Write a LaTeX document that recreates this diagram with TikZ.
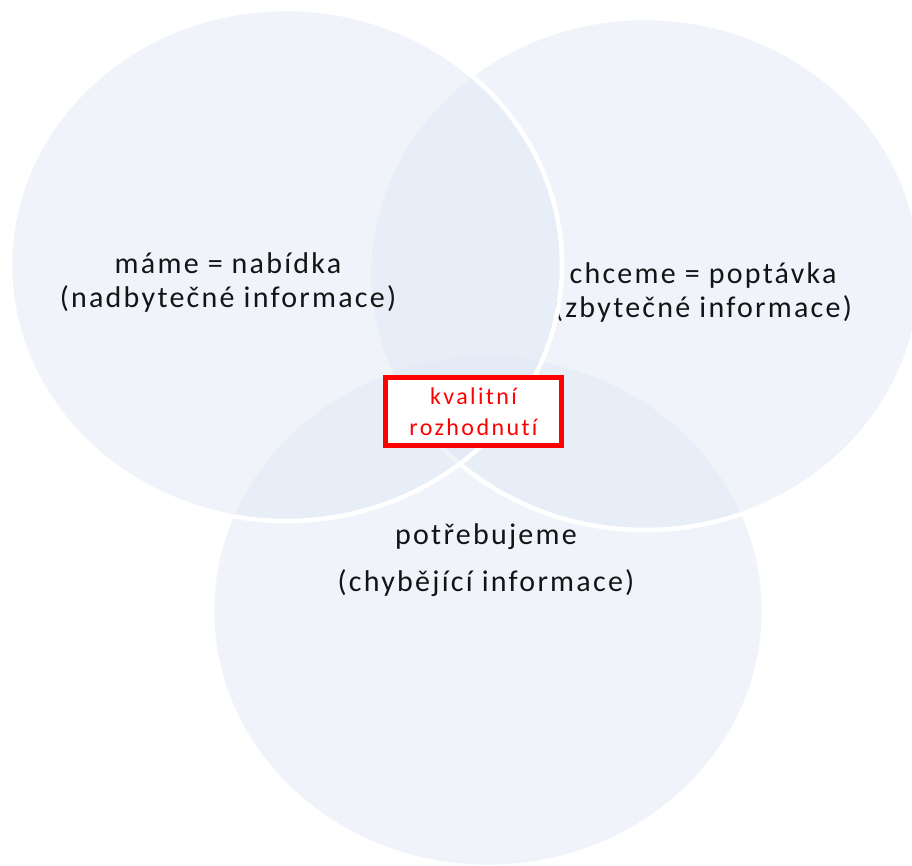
\documentclass[tikz,border=0pt]{standalone}
\usepackage{fontspec}
\setmainfont{Carlito}[RawFeature=-liga]
\definecolor{setblue}{RGB}{220,229,243}
\definecolor{inkgray}{RGB}{20,20,20}
\definecolor{alertred}{RGB}{255,0,0}
\begin{document}
\begin{tikzpicture}[x=0.5pt,y=-0.5pt,
  setfill/.style={fill=setblue, fill opacity=0.42},
  setedge/.style={draw=white, line width=2.25pt},
  setlabel/.style={font=\fontsize{15}{17}\selectfont\addfontfeatures{LetterSpace=7.5},
    text=inkgray, align=center, inner sep=0pt, anchor=base},
  decision/.style={draw=alertred, line width=2.5pt, fill=white, text=alertred,
    minimum width=88pt, minimum height=34pt, inner sep=0pt, align=center,
    font=\fontsize{12}{15.5}\selectfont\addfontfeatures{LetterSpace=10}}]
  \useasboundingbox (0,0) rectangle (912,866);
  \clip (0,0) rectangle (912,866);

  % three overlapping sets, back to front
  \path[setfill] (488,611) ellipse [x radius=138pt, y radius=128pt];
  \draw[setedge] (488,611) ellipse [x radius=138pt, y radius=128pt];

  \path[setfill] (645,274) ellipse [x radius=138pt, y radius=128pt];
  \draw[setedge] (645,274) ellipse [x radius=138pt, y radius=128pt];
  \node[setlabel] (want) at (703,318) {chceme = poptávka\\(zbytečné informace)};

  \path[setfill] (286,265) ellipse [x radius=138pt, y radius=128pt];
  \draw[setedge] (286,265) ellipse [x radius=138pt, y radius=128pt];
  \node[setlabel] (have) at (228,308) {máme = nabídka\\(nadbytečné informace)};

  \node[setlabel] (need) at (486,592) {potřebujeme\\[6.5pt](chybějící informace)};

  % the common intersection
  \node[decision] (quality) at (473.5,411.5) {kvalitní\\rozhodnutí};
\end{tikzpicture}
\end{document}
